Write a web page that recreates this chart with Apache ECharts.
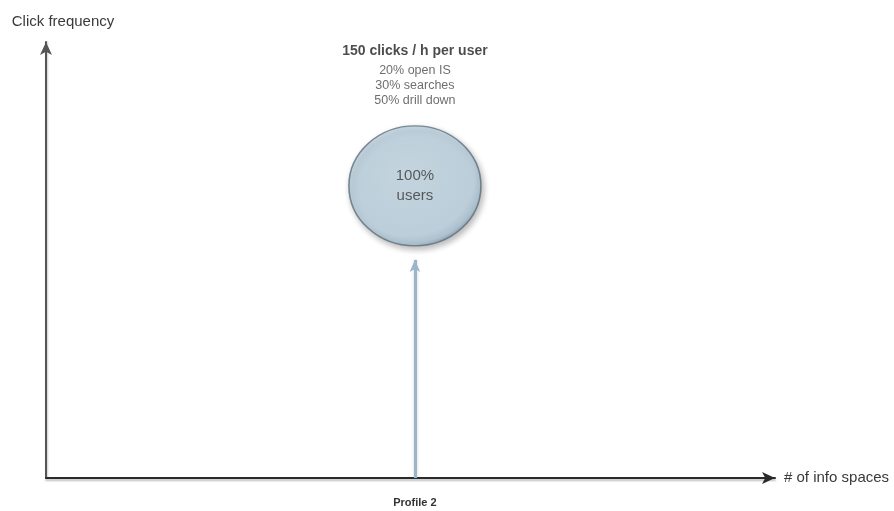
<!DOCTYPE html>
<html>
<head>
<meta charset="utf-8">
<script src="https://cdn.jsdelivr.net/npm/echarts@6/dist/echarts.min.js"></script>
<style>html,body{margin:0;padding:0;background:#fff}#c{width:894px;height:511px}</style>
</head>
<body>
<div id="c"></div>
<script>
// ---- data ----
var profiles = ['Profile 2'];
var profileX = [5];              // position on the "# of info spaces" axis
var clickFreq = [6.7];           // position on the "Click frequency" axis
var arrowTop = [5];              // top of the rising arrow
var userShare = ['100%'];
var clicksPerHour = [150];
var breakdown = [['20% open IS', '30% searches', '50% drill down']];

var chart = echarts.init(document.getElementById('c'));
var font = '"Liberation Sans", Arial, sans-serif';

var circleData = profileX.map(function (x, i) { return [x, clickFreq[i]]; });

chart.setOption({
  animation: false,
  grid: { left: 46, right: 119, top: 42, bottom: 33 },
  xAxis: {
    type: 'value', min: 0, max: 9.88, interval: 5,
    name: '# of info spaces', nameLocation: 'end', nameGap: 9,
    nameTextStyle: { color: '#3a3a3a', fontSize: 15, fontFamily: font, align: 'left', verticalAlign: 'middle' },
    axisLine: { show: true, symbol: ['none', 'arrow'], symbolSize: [9, 13],
      lineStyle: { color: '#2a2a2a', width: 2, shadowColor: 'rgba(0,0,0,0.25)', shadowBlur: 2, shadowOffsetY: 2 } },
    axisTick: { show: false },
    splitLine: { show: false },
    axisLabel: {
      margin: 19, color: '#333', fontSize: 11, fontWeight: 'bold', fontFamily: font,
      showMaxLabel: false,
      formatter: function (v) { var i = profileX.indexOf(v); return i >= 0 ? profiles[i] : ''; }
    }
  },
  yAxis: {
    type: 'value', min: 0, max: 10,
    name: 'Click frequency', nameLocation: 'end', nameGap: 13,
    nameTextStyle: { color: '#3a3a3a', fontSize: 15, fontFamily: font, padding: [0, 0, 0, 34] },
    axisLine: { show: true, symbol: ['none', 'arrow'], symbolSize: [9, 13],
      lineStyle: { color: '#555', width: 2, shadowColor: 'rgba(0,0,0,0.2)', shadowBlur: 2, shadowOffsetX: 1 } },
    axisTick: { show: false },
    splitLine: { show: false },
    axisLabel: { show: false }
  },
  series: [
    {
      type: 'line',
      data: [],
      markLine: {
        silent: true,
        symbol: ['none', 'arrow'],
        symbolSize: [8, 12],
        label: { show: false },
        lineStyle: { type: 'solid', color: '#9db5c8', width: 3, shadowColor: 'rgba(120,140,160,0.4)', shadowBlur: 3 },
        data: profileX.map(function (x, i) { return [{ coord: [x, 0] }, { coord: [x, arrowTop[i]] }]; })
      }
    },
    {
      type: 'scatter',
      symbol: 'circle',
      symbolSize: [132, 120],
      z: 3,
      data: circleData,
      itemStyle: {
        color: {
          type: 'radial', x: 0.45, y: 0.42, r: 0.6,
          colorStops: [{ offset: 0, color: '#c6dbe7' }, { offset: 0.82, color: '#bcd3e2' }, { offset: 0.93, color: '#a9c2d3' }, { offset: 1, color: '#7f95a5' }]
        },
        borderColor: '#5d6f7d', borderWidth: 1.5,
        shadowColor: 'rgba(0,0,0,0.35)', shadowBlur: 6, shadowOffsetX: 2, shadowOffsetY: 3
      },
      label: {
        show: true, position: 'inside', color: '#3a3a3a', fontSize: 15, lineHeight: 20, fontFamily: font,
        formatter: function (p) { return userShare[p.dataIndex] + '\nusers'; }
      }
    },
    {
      type: 'scatter',
      symbolSize: [132, 120],
      z: 2,
      silent: true,
      data: circleData,
      itemStyle: { color: 'rgba(0,0,0,0)' },
      label: {
        show: true, position: 'top', distance: 18, fontFamily: font,
        formatter: function (p) {
          var i = p.dataIndex;
          return '{h|' + clicksPerHour[i] + ' clicks / h per user}\n' +
            breakdown[i].map(function (s) { return '{t|' + s + '}'; }).join('\n');
        },
        rich: {
          h: { fontSize: 14, fontWeight: 'bold', color: '#1e1e1e', lineHeight: 24, fontFamily: font },
          t: { fontSize: 12.5, color: '#4a4a4a', lineHeight: 15, fontFamily: font }
        }
      }
    }
  ]
});
</script>
</body>
</html>
